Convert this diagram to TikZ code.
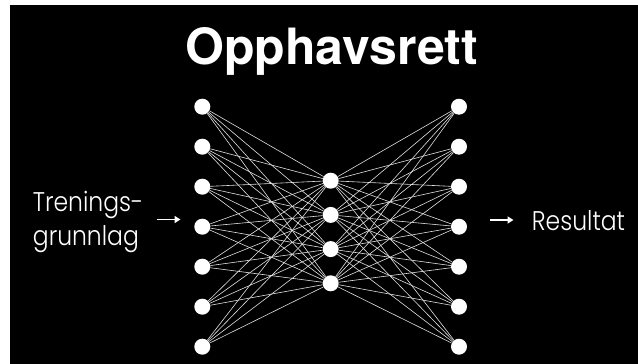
\documentclass[tikz,border=0pt]{standalone}
\usepackage{fontspec}
\setmainfont{TeX Gyre Heros}
\newfontfamily\labfont{Poppins}[UprightFont=* Light, FakeStretch=0.87]
\usetikzlibrary{arrows.meta}
\tikzset{
  neuron/.style={circle, fill=white, draw=none, minimum size=16pt, inner sep=0pt},
  link/.style={draw=white!88!black, line width=0.6pt},
  flowarrow/.style={draw=white, line width=1.6pt, -{Triangle[length=6pt,width=7pt]}},
  lab/.style={text=white, font=\labfont\fontsize{27}{32}\selectfont, inner sep=0pt},
}
\begin{document}
\begin{tikzpicture}[x=1pt, y=-1pt]
\useasboundingbox (0,0) rectangle (638,364);
\fill[white] (0,0) rectangle (638,364);
\fill[black] (10,5) rectangle (638,364);
\node[text=white, font=\bfseries\fontsize{50}{56}\selectfont, anchor=base, inner sep=0pt] (title) at (331.5,64) {Opphavsrett};
\foreach \i in {1,...,7} {
  \node[neuron] (L\i) at (202.3, {106.7+40*(\i-1)}) {};
  \node[neuron] (R\i) at (459, {106.7+40*(\i-1)}) {};
}
\foreach \j in {1,...,4} {
  \node[neuron] (M\j) at (330.7, {180.7+34.2*(\j-1)}) {};
}
\foreach \i in {1,...,7} {
  \foreach \j in {1,...,4} {
    \draw[link] (L\i) -- (M\j);
    \draw[link] (M\j) -- (R\i);
  }
}
\node[lab, anchor=base west] (in1) at (32.7,211.7) {Trenings-};
\node[lab, anchor=base west] (in2) at (32.7,245) {grunnlag};
\node[lab, anchor=base west] (out) at (531.7,230) {Resultat};
\coordinate (a1) at (156.7,219.5);
\coordinate (a2) at (180.5,219.5);
\coordinate (b1) at (490,220);
\coordinate (b2) at (513.5,220);
\draw[flowarrow] (a1) -- (a2);
\draw[flowarrow] (b1) -- (b2);
\end{tikzpicture}
\end{document}
